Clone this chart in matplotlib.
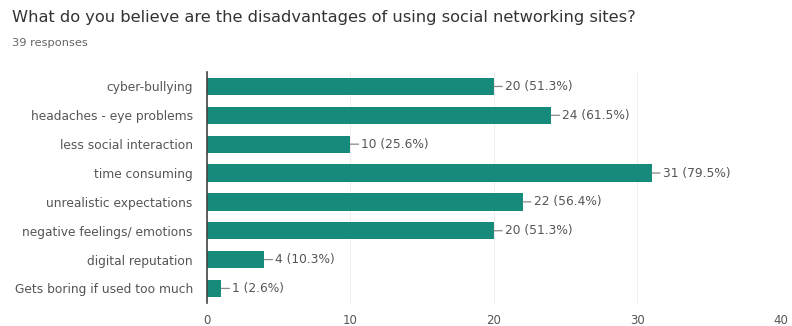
import matplotlib.pyplot as plt

# Survey answers, top to bottom
categories = ["cyber-bullying", "headaches - eye problems", "less social interaction",
              "time consuming", "unrealistic expectations", "negative feelings/ emotions",
              "digital reputation", "Gets boring if used too much"]
counts = [20, 24, 10, 31, 22, 20, 4, 1]
percents = ["51.3%", "61.5%", "25.6%", "79.5%", "56.4%", "51.3%", "10.3%", "2.6%"]
ticks = [0, 10, 20, 30, 40]

teal = "#168a7b"
grey = "#555555"

fig = plt.figure(figsize=(7.92, 3.26), dpi=100)
ax = fig.add_axes([0.261, 0.071, 0.725, 0.708])

ypos = list(range(len(categories)))
ax.barh(ypos, counts, height=0.6, color=teal, zorder=3)

# value labels with a small leader line
for y, c, p in zip(ypos, counts, percents):
    ax.annotate(f"{c} ({p})", xy=(c, y), xytext=(8, 0), textcoords="offset points",
                va="center", ha="left", fontsize=8.8, color=grey,
                arrowprops=dict(arrowstyle="-", color="#888888", lw=0.9,
                                shrinkA=0, shrinkB=0))

ax.set_xlim(0, 40)
ax.set_ylim(len(categories) - 0.5, -0.5)
ax.set_yticks(ypos)
ax.set_yticklabels(categories, fontsize=8.8, color=grey)
ax.set_xticks(ticks)
ax.set_xticklabels([str(t) for t in ticks], fontsize=8.5, color=grey)
ax.tick_params(length=0, pad=10)
ax.tick_params(axis="x", pad=8)
ax.grid(axis="x", color="#eeeeee", lw=0.8, zorder=0)
for s in ["top", "right", "bottom"]:
    ax.spines[s].set_visible(False)
ax.spines["left"].set_color("#444444")
ax.spines["left"].set_linewidth(1.2)
ax.spines["left"].set_zorder(4)

fig.text(0.015, 0.945, "What do you believe are the disadvantages of using social networking sites?",
         fontsize=11.7, color="#333333", va="center")
fig.text(0.015, 0.868, "39 responses", fontsize=8.2, color="#666666", va="center")

fig.savefig("out.png", dpi=100)
